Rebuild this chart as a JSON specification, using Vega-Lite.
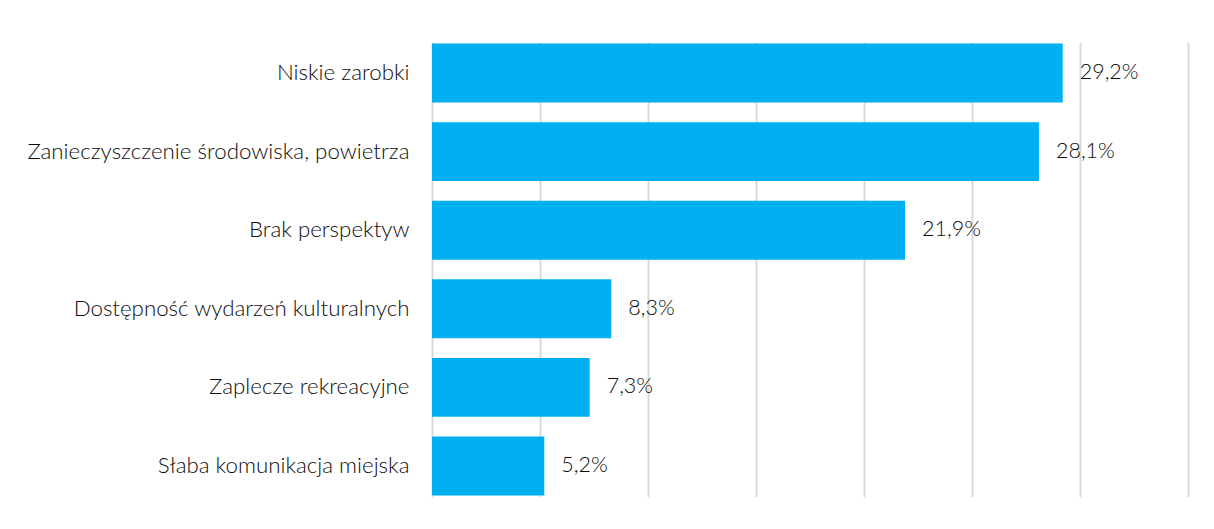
{
  "$schema": "https://vega.github.io/schema/vega-lite/v6.json",
  "width": 756,
  "height": 455,
  "autosize": {"type": "none"},
  "padding": {"left": 432, "top": 42, "right": 26, "bottom": 32},
  "background": "white",
  "config": {
    "view": {"stroke": null},
    "locale": {"number": {"decimal": ",", "thousands": " ", "grouping": [3], "currency": ["", " zł"]}},
    "font": "Lato"
  },
  "data": {
    "values": [
      {"kategoria": "Niskie zarobki", "wartosc": 0.292},
      {"kategoria": "Zanieczyszczenie środowiska, powietrza", "wartosc": 0.281},
      {"kategoria": "Brak perspektyw", "wartosc": 0.219},
      {"kategoria": "Dostępność wydarzeń kulturalnych", "wartosc": 0.083},
      {"kategoria": "Zaplecze rekreacyjne", "wartosc": 0.073},
      {"kategoria": "Słaba komunikacja miejska", "wartosc": 0.052}
    ]
  },
  "encoding": {
    "y": {
      "field": "kategoria",
      "type": "nominal",
      "sort": null,
      "scale": {"paddingInner": 0.25, "paddingOuter": 0.02},
      "axis": {
        "title": null,
        "ticks": false,
        "domain": false,
        "labelFontSize": 22.3,
        "labelFont": "Lato",
        "labelFontWeight": 300,
        "labelColor": "#0d0d0d",
        "labelPadding": 23,
        "labelLimit": 500
      }
    },
    "x": {
      "field": "wartosc",
      "type": "quantitative",
      "scale": {"domain": [0, 0.35], "nice": false},
      "axis": {
        "title": null,
        "labels": false,
        "ticks": false,
        "domain": false,
        "values": [0, 0.05, 0.1, 0.15, 0.2, 0.25, 0.3, 0.35],
        "gridColor": "#d9d9d9",
        "gridWidth": 2
      }
    }
  },
  "layer": [
    {"mark": {"type": "bar", "color": "#00B0F0"}},
    {
      "mark": {"type": "text", "align": "left", "baseline": "middle", "dx": 17, "fontSize": 21.5, "font": "Lato", "fontWeight": 300, "color": "#0d0d0d"},
      "encoding": {"text": {"field": "wartosc", "type": "quantitative", "format": ".1%"}}
    }
  ]
}
